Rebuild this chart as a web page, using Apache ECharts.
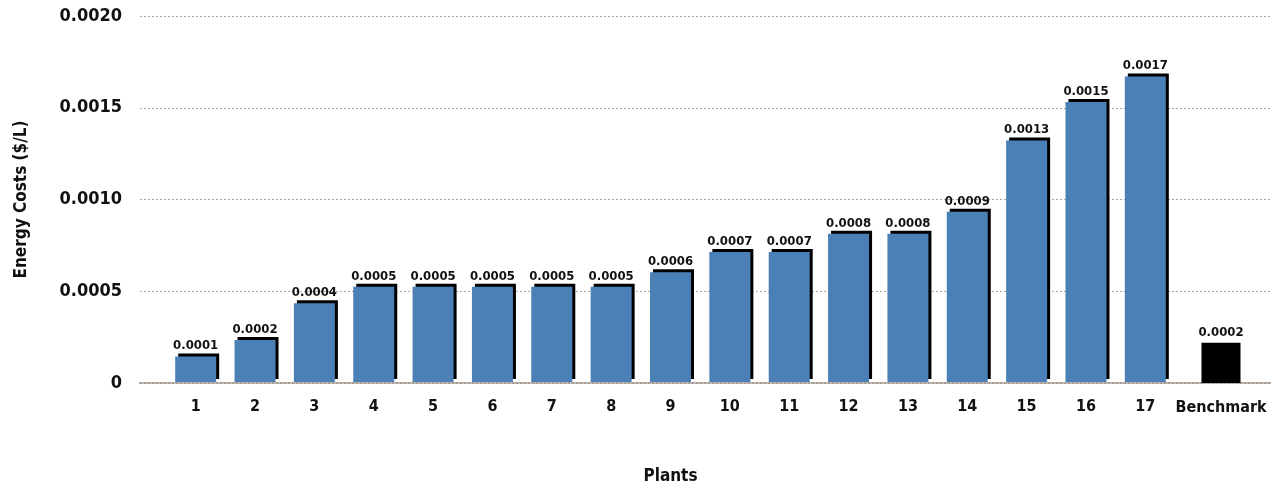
<!DOCTYPE html>
<html><head><meta charset="utf-8">
<script src="https://cdn.jsdelivr.net/npm/echarts@6/dist/echarts.min.js"></script>
<style>html,body{margin:0;padding:0;background:#fff}#c{width:1280px;height:490px}</style>
</head><body><div id="c"></div>
<script>
const plantCategories = ['1','2','3','4','5','6','7','8','9','10','11','12','13','14','15','16','17'];
const plantValues = [0.00014,0.00023,0.00043,0.00052,0.00052,0.00052,0.00052,0.00052,0.00060,0.00071,0.00071,0.00081,0.00081,0.00093,0.00132,0.00153,0.00167];
const benchCategories = ['Benchmark'];
const benchValues = [0.00022];
const yTicks = [0, 0.0005, 0.0010, 0.0015, 0.0020];

const FONT = '"DejaVu Sans Condensed", "Liberation Sans Narrow", sans-serif';
const TOP = 16, BOTTOM = 107;
const chart = echarts.init(document.getElementById('c'));
const yFmt = v => v === 0 ? '0' : v.toFixed(4);
const hiddenY = i => ({type:'value', gridIndex:i, min:0, max:yTicks[yTicks.length-1], interval:yTicks[1]-yTicks[0], show:false});
const lbl = {show:true, position:'top', distance:4, formatter:p=>p.value.toFixed(4), fontFamily:FONT, fontSize:13, fontWeight:'bold', color:'#111'};
const xLbl = {margin:17, fontFamily:FONT, fontSize:16, fontWeight:'bold', color:'#111'};
chart.setOption({
  animation:false,
  grid:[
    {left:140, right:10, top:TOP, bottom:BOTTOM},
    {left:166, width:1009, top:TOP, bottom:BOTTOM},
    {left:1191, width:60, top:TOP, bottom:BOTTOM}
  ],
  xAxis:[
    {type:'value', gridIndex:0, min:0, max:1, axisLabel:{show:false}, axisTick:{show:false}, splitLine:{show:false},
     axisLine:{show:true, lineStyle:{color:'#a89e96', type:[2,2], width:2}}},
    {type:'category', gridIndex:1, data:plantCategories, axisLine:{show:false}, axisTick:{show:false},
     axisLabel:xLbl,
     name:'Plants', nameLocation:'middle', nameGap:86, nameTextStyle:{fontFamily:FONT, fontSize:17, fontWeight:'bold', color:'#111'}},
    {type:'category', gridIndex:2, data:benchCategories, axisLine:{show:false}, axisTick:{show:false},
     axisLabel:xLbl}
  ],
  yAxis:[
    {type:'value', gridIndex:0, min:0, max:yTicks[yTicks.length-1], interval:yTicks[1]-yTicks[0],
     axisLine:{show:false}, axisTick:{show:false},
     axisLabel:{formatter:yFmt, margin:18, fontFamily:FONT, fontSize:18, fontWeight:'bold', color:'#111'},
     splitLine:{lineStyle:{color:'#b0a69e', type:[2,2], width:1}},
     name:'Energy Costs ($/L)', nameLocation:'middle', nameGap:110, nameRotate:90,
     nameTextStyle:{fontFamily:FONT, fontSize:17, fontWeight:'bold', color:'#111'}},
    hiddenY(1), hiddenY(2)
  ],
  series:[
    {type:'bar', xAxisIndex:1, yAxisIndex:1, data:plantValues, barWidth:41,
     itemStyle:{color:'#4b80b6', shadowColor:'#000', shadowBlur:0, shadowOffsetX:3, shadowOffsetY:-3},
     label:lbl},
    {type:'bar', xAxisIndex:2, yAxisIndex:2, data:benchValues, barWidth:39,
     itemStyle:{color:'#000'}, label:lbl}
  ]
});
</script></body></html>
